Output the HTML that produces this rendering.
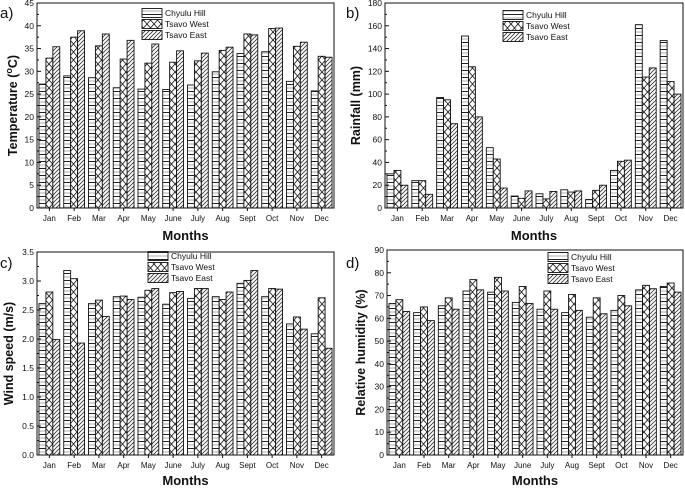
<!DOCTYPE html>
<html><head><meta charset="utf-8"><style>
body{margin:0;background:#fff;}
svg{display:block;font-family:"Liberation Sans",Arial,sans-serif;}
</style></head><body>
<svg id="chart" width="685" height="488" viewBox="0 0 685 488" xmlns="http://www.w3.org/2000/svg">
<defs>
<pattern id="pH" patternUnits="userSpaceOnUse" width="8" height="7"><rect width="8" height="7" fill="#fff"/><line x1="0" y1="0.5" x2="8" y2="0.5" stroke="#222" stroke-width="1"/><line x1="0" y1="4" x2="8" y2="4" stroke="#999" stroke-width="0.8"/></pattern>
<pattern id="pX" patternUnits="userSpaceOnUse" width="7" height="8"><rect width="7" height="8" fill="#fff"/><line x1="0" y1="0" x2="7" y2="8" stroke="#222" stroke-width="0.9"/><line x1="7" y1="0" x2="0" y2="8" stroke="#222" stroke-width="0.9"/></pattern>
<pattern id="pD" patternUnits="userSpaceOnUse" width="4" height="4"><rect width="4" height="4" fill="#fff"/><line x1="0" y1="4" x2="4" y2="0" stroke="#333" stroke-width="0.8"/><line x1="-1" y1="1" x2="1" y2="-1" stroke="#333" stroke-width="0.8"/><line x1="3" y1="5" x2="5" y2="3" stroke="#333" stroke-width="0.8"/></pattern>
</defs>
</svg>
<script>
const months=["Jan","Feb","Mar","Apr","May","June","July","Aug","Sept","Oct","Nov","Dec"];
const seriesNames=["Chyulu Hill","Tsavo West","Tsavo East"];
const tempChyulu=[27.2,29,28.6,26.4,26.1,26,27,29.9,33.9,34.3,27.8,25.7];
const tempWest=[32.9,37.5,35.6,32.7,31.8,32,32.3,34.6,38.2,39.4,35.5,33.3];
const tempEast=[35.4,38.9,38.2,36.8,36,34.5,34,35.3,38,39.5,36.4,33.1];
const rainChyulu=[30,24,97,151,53,10.5,12.5,16,7.5,33,161,147];
const rainWest=[33,24,95,124,43,8.5,8,14,15.5,41,115,111];
const rainEast=[20,12,74,80,17.5,15,14.5,15,20,42,123,100];
const windChyulu=[2.61,3.18,2.61,2.73,2.72,2.6,2.7,2.73,2.96,2.73,2.26,2.09];
const windWest=[2.81,3.04,2.67,2.74,2.84,2.8,2.87,2.68,3.01,2.87,2.38,2.71];
const windEast=[1.99,1.93,2.39,2.68,2.87,2.82,2.87,2.81,3.18,2.86,2.17,1.84];
const humChyulu=[66.5,62.5,65.5,72,71.5,67,64,62.5,60.5,63.5,72.5,74];
const humWest=[68.2,65,69,77,78,74,72,70.5,69,70,74.5,75.5];
const humEast=[63,59,64,72.5,72,66.5,64,63.5,62,65.5,73,71.5];
const tempTicks=[0,5,10,15,20,25,30,35,40,45];
const rainTicks=[0,20,40,60,80,100,120,140,160,180];
const windTicks=["0.0","0.5","1.0","1.5","2.0","2.5","3.0","3.5"];
const humTicks=[0,10,20,30,40,50,60,70,80,90];

const svg=document.getElementById('chart');
const NS="http://www.w3.org/2000/svg";
function mk(tag,attrs,parent){const e=document.createElementNS(NS,tag);for(const k in attrs)e.setAttribute(k,attrs[k]);(parent||svg).appendChild(e);return e;}
const fills=["url(#pH)","url(#pX)","url(#pD)"];

function panel(o){
  const g=mk('g',{});
  
  
  const L=o.l,R=o.r,T=o.t,B=o.b,ymax=+o.ticks[o.ticks.length-1];
  const y=v=>B-(v/ymax)*(B-T);
  const cw=(R-L)/12;
  const x=i=>L+cw*i;
  const bw=cw*0.28;
  o.series.forEach((arr,s)=>{
    arr.forEach((v,i)=>{
      const bx=x(i)+cw*0.08+s*bw;
      const r=mk('rect',{x:bx,y:y(v),width:bw,height:B-y(v),fill:fills[s],stroke:'#111','stroke-width':0.9},g);
      
      
    });
  });
  const fr=mk('rect',{x:L,y:T,width:R-L,height:B-T,fill:'none',stroke:'#111','stroke-width':1},g);
  
  
  o.ticks.forEach((t,k)=>{
    const yy=y(+t);
    mk('line',{x1:L,y1:yy,x2:L+4,y2:yy,stroke:'#111'},g);
    if(k<o.ticks.length-1){const ym=y((+t)+(+o.ticks[1])/2);mk('line',{x1:L,y1:ym,x2:L+2,y2:ym,stroke:'#111'},g);}
    const tl=mk('text',{x:L-3,y:yy+3,'font-size':8.5,'text-anchor':'end',fill:'#111'},g);
    tl.textContent=t;
    
    
  });
  months.forEach((m,i)=>{
    const cx=x(i)+cw*0.5;
    mk('line',{x1:cx,y1:B,x2:cx,y2:B+3,stroke:'#111'},g);
    const tl=mk('text',{x:cx,y:B+13,'font-size':8,'text-anchor':'middle',fill:'#111'},g);
    tl.textContent=m;
    
    
  });
  const xt=mk('text',{x:(L+R)/2,y:o.xty,'font-size':13,'font-weight':'bold','text-anchor':'middle',fill:'#111'},g);
  xt.textContent='Months';
  
  
  const yt=mk('text',{x:0,y:0,'font-size':12.5,'font-weight':'bold','text-anchor':'middle',fill:'#111',transform:'translate('+o.ytx+','+(T+B)/2+') rotate(-90)'},g);
  yt.innerHTML=o.ytitle;
  
  
  const pl=mk('text',{x:o.plx,y:o.ply,'font-size':15,fill:'#111'},g);
  pl.textContent=o.label;
  
  
  seriesNames.forEach((n,s)=>{
    const ly=o.lgy+s*11;
    const sw=mk('rect',{x:o.lgx,y:ly-4.5,width:20,height:9,fill:fills[s],stroke:'#111','stroke-width':0.9},g);
    
    
    const lt=mk('text',{x:o.lgx+23,y:ly+3,'font-size':8.5,fill:'#111'},g);
    lt.textContent=n;
    
    
  });
}
panel({name:'temperature-panel',key:'temp',l:37,r:334,t:3,b:208,ticks:tempTicks,series:[tempChyulu,tempWest,tempEast],xty:240,ytx:17,ytitle:'Temperature (<tspan baseline-shift="super" font-size="9">o</tspan>C)',label:'a)',plx:0,ply:18,lgx:142,lgy:13});
panel({name:'rainfall-panel',key:'rain',l:385,r:683,t:3,b:208,ticks:rainTicks,series:[rainChyulu,rainWest,rainEast],xty:240,ytx:360,ytitle:'Rainfall (mm)',label:'b)',plx:346,ply:18,lgx:503,lgy:15});
panel({name:'wind-panel',key:'wind',l:37,r:334,t:252,b:455,ticks:windTicks,series:[windChyulu,windWest,windEast],xty:485,ytx:13,ytitle:'Wind speed (m/s)',label:'c)',plx:0,ply:268,lgx:148,lgy:256});
panel({name:'humidity-panel',key:'hum',l:387,r:683,t:250,b:455,ticks:humTicks,series:[humChyulu,humWest,humEast],xty:485,ytx:365,ytitle:'Relative humidity (%)',label:'d)',plx:346,ply:268,lgx:548,lgy:257});
</script>
</body></html>
